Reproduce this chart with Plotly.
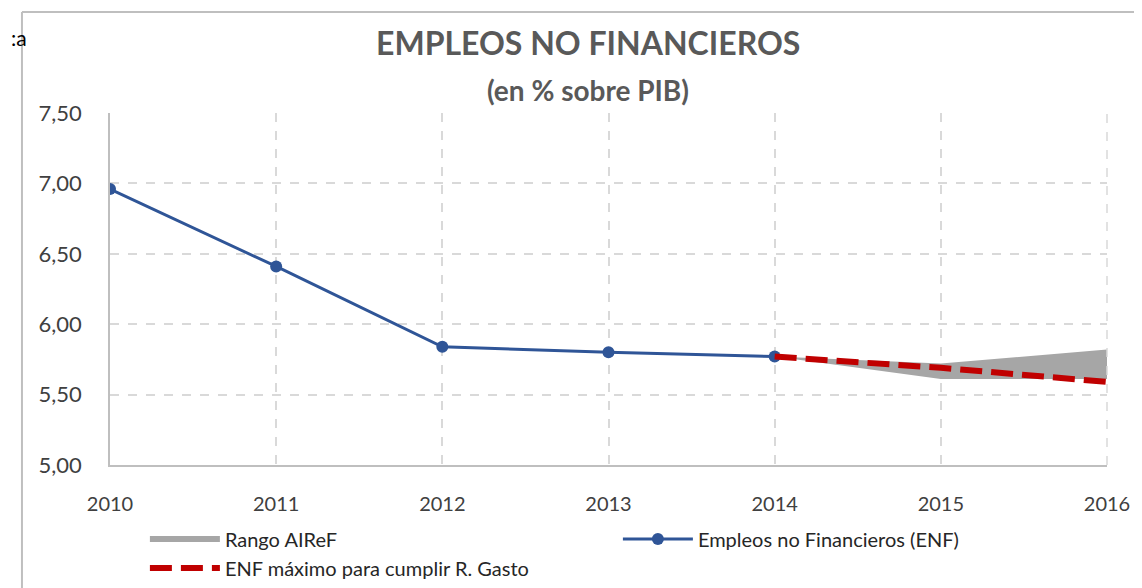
import plotly.graph_objects as go

years = [2010, 2011, 2012, 2013, 2014, 2015, 2016]
enf = [6.96, 6.41, 5.84, 5.80, 5.77]
enf_years = [2010, 2011, 2012, 2013, 2014]
rango_years = [2014, 2015, 2016]
rango_upper = [5.77, 5.72, 5.82]
rango_lower = [5.77, 5.61, 5.61]
max_years = [2014, 2015, 2016]
enf_max = [5.77, 5.69, 5.59]
y_ticks = [5.0, 5.5, 6.0, 6.5, 7.0, 7.5]
y_labels = ["5,00", "5,50", "6,00", "6,50", "7,00", "7,50"]

FONT = "Lato"
fig = go.Figure()

fig.add_trace(go.Scatter(
    x=rango_years + rango_years[::-1],
    y=rango_upper + rango_lower[::-1],
    fill="toself", fillcolor="#A6A6A6", mode="none",
    name="Rango AIReF",
))
fig.add_trace(go.Scatter(
    x=enf_years, y=enf, mode="lines+markers",
    line=dict(color="#2F5597", width=3),
    marker=dict(size=12, color="#2F5597"),
    name="Empleos no Financieros (ENF)",
))
fig.add_trace(go.Scatter(
    x=max_years, y=enf_max, mode="lines",
    line=dict(color="#C00000", width=6, dash="22px,9px"),
    name="ENF máximo para cumplir R. Gasto",
))

fig.update_layout(
    width=1142, height=588,
    margin=dict(l=102, r=43, t=105, b=131, autoexpand=False),
    paper_bgcolor="white", plot_bgcolor="white",
    font=dict(family=FONT, size=20, color="#404040"),
    showlegend=True,
    legend=dict(
        orientation="h", x=0.035, y=-0.155, xanchor="left", yanchor="top",
        entrywidth=388, font=dict(size=20, color="#262626"),
        tracegroupgap=0, itemwidth=70,
    ),
    xaxis=dict(
        range=[2010, 2016], tickvals=years, ticktext=[str(y) for y in years],
        showgrid=True, gridcolor="#D9D9D9", griddash="dash", gridwidth=1.5,
        showline=True, linecolor="#BFBFBF", linewidth=1.5,
        ticks="", ticklabelstandoff=20, zeroline=False, automargin=False,
        tickfont=dict(size=20, color="#404040"),
    ),
    yaxis=dict(
        range=[5.0, 7.5], tickvals=y_ticks, ticktext=y_labels,
        showgrid=True, gridcolor="#D9D9D9", griddash="dash", gridwidth=1.5,
        showline=True, linecolor="#BFBFBF", linewidth=1.5,
        ticks="", ticklabelstandoff=22, zeroline=False, automargin=False,
        tickfont=dict(size=22, color="#404040"),
    ),
)

# right grid edge
fig.add_shape(type="line", xref="paper", yref="paper", x0=1, x1=1, y0=0, y1=1,
              line=dict(color="#D9D9D9", width=1.5, dash="dash"))
# outer chart frame
fig.add_shape(type="line", xref="paper", yref="paper", x0=-0.0883, x1=1.05, y0=1.287, y1=1.287,
              line=dict(color="#BFBFBF", width=2))
fig.add_shape(type="line", xref="paper", yref="paper", x0=-0.0883, x1=-0.0883, y0=1.287, y1=-0.4,
              line=dict(color="#BFBFBF", width=2))

fig.add_annotation(text="<b>EMPLEOS NO FINANCIEROS</b>", xref="paper", yref="paper",
                   x=0.479, y=1.20, xanchor="center", yanchor="middle", showarrow=False,
                   font=dict(family=FONT, size=32, color="#595959"))
fig.add_annotation(text="<b>(en % sobre PIB)</b>", xref="paper", yref="paper",
                   x=0.479, y=1.065, xanchor="center", yanchor="middle", showarrow=False,
                   font=dict(family=FONT, size=28, color="#595959"))
fig.add_annotation(text=":a", xref="paper", yref="paper", borderpad=0,
                   x=-0.1, y=1.215, xanchor="left", yanchor="middle", showarrow=False,
                   font=dict(family=FONT, size=21, color="#000000"))

fig.write_html("out.html")
